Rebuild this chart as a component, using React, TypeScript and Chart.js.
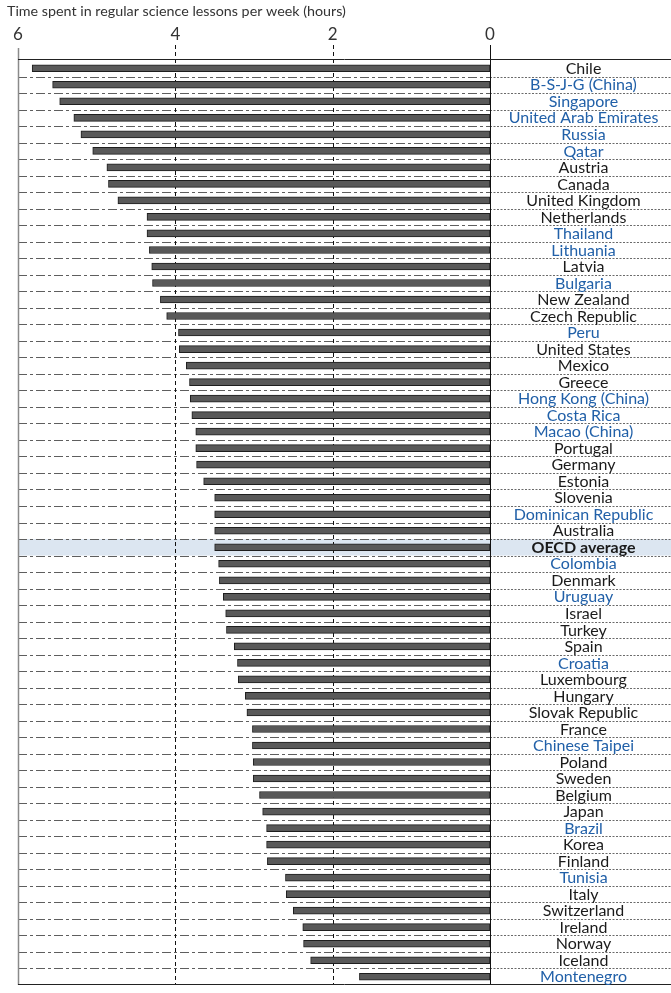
import React, { useEffect, useRef } from "react";
import { Chart, registerables } from "chart.js";

Chart.register(...registerables);

const TITLE = "Time spent in regular science lessons per week (hours)";
const HIGHLIGHT = "OECD average";

const categories = [
  "Chile", "B-S-J-G (China)", "Singapore", "United Arab Emirates", "Russia", "Qatar",
  "Austria", "Canada", "United Kingdom", "Netherlands", "Thailand", "Lithuania",
  "Latvia", "Bulgaria", "New Zealand", "Czech Republic", "Peru", "United States",
  "Mexico", "Greece", "Hong Kong (China)", "Costa Rica", "Macao (China)", "Portugal",
  "Germany", "Estonia", "Slovenia", "Dominican Republic", "Australia", "OECD average",
  "Colombia", "Denmark", "Uruguay", "Israel", "Turkey", "Spain",
  "Croatia", "Luxembourg", "Hungary", "Slovak Republic", "France", "Chinese Taipei",
  "Poland", "Sweden", "Belgium", "Japan", "Brazil", "Korea",
  "Finland", "Tunisia", "Italy", "Switzerland", "Ireland", "Norway",
  "Iceland", "Montenegro",
];

const hours = [
  5.82, 5.56, 5.47, 5.29, 5.20, 5.05,
  4.87, 4.85, 4.73, 4.36, 4.36, 4.33,
  4.30, 4.29, 4.19, 4.11, 3.96, 3.95,
  3.86, 3.82, 3.81, 3.79, 3.74, 3.74,
  3.73, 3.64, 3.50, 3.50, 3.50, 3.50,
  3.45, 3.44, 3.39, 3.36, 3.35, 3.25,
  3.21, 3.20, 3.11, 3.09, 3.02, 3.02,
  3.01, 3.01, 2.93, 2.89, 2.84, 2.84,
  2.83, 2.60, 2.59, 2.50, 2.38, 2.37,
  2.28, 1.66,
];

const partners = [
  "B-S-J-G (China)", "Singapore", "United Arab Emirates", "Russia", "Qatar",
  "Thailand", "Lithuania", "Bulgaria", "Peru", "Hong Kong (China)", "Costa Rica",
  "Macao (China)", "Dominican Republic", "Colombia", "Uruguay", "Croatia",
  "Chinese Taipei", "Brazil", "Tunisia", "Montenegro",
];

const xTicks = [0, 2, 4, 6];

const FONT = "Lato, 'Open Sans', sans-serif";

function line(ctx: CanvasRenderingContext2D, x1: number, y1: number, x2: number, y2: number) {
  ctx.beginPath();
  ctx.moveTo(x1, y1);
  ctx.lineTo(x2, y2);
  ctx.stroke();
}

const decor = {
  id: "decor",
  beforeDatasetsDraw(chart: any) {
    const { ctx, chartArea: ca, scales } = chart;
    const x = scales.x;
    const y = scales.y;
    const W = chart.width;
    const n = categories.length;
    const step = y.getPixelForValue(1) - y.getPixelForValue(0);
    ctx.save();
    // highlight band
    const hi = categories.indexOf(HIGHLIGHT);
    const yc = y.getPixelForValue(hi);
    ctx.fillStyle = "#dce6f1";
    ctx.fillRect(ca.left, yc - step / 2, W - ca.left, step);
    // row separators
    ctx.lineWidth = 1;
    for (let i = 1; i < n; i++) {
      const yy = Math.round(y.getPixelForValue(i) - step / 2) + 0.5;
      ctx.strokeStyle = "#5e5e5e";
      ctx.setLineDash([9, 3, 3, 3]);
      line(ctx, ca.left, yy, ca.right, yy);
      ctx.strokeStyle = "#6a6a6a";
      ctx.setLineDash([2, 1.5]);
      line(ctx, ca.right, yy, W, yy);
    }
    // vertical grid lines
    const maxV = Math.max(...xTicks);
    for (const v of xTicks) {
      const xx = Math.round(x.getPixelForValue(v)) + 0.5;
      if (v === 0) {
        ctx.setLineDash([]);
        ctx.strokeStyle = "#111";
        ctx.lineWidth = 1;
        line(ctx, xx, ca.top - 15, xx, ca.bottom);
      } else if (v === maxV) {
        ctx.setLineDash([]);
        ctx.strokeStyle = "#8a8a8a";
        ctx.lineWidth = 1.5;
        line(ctx, xx, ca.top - 12, xx, ca.bottom);
      } else {
        ctx.setLineDash([4, 3]);
        ctx.strokeStyle = "#111";
        ctx.lineWidth = 1;
        line(ctx, xx, ca.top - 15, xx, ca.bottom);
      }
    }
    // top & bottom borders
    ctx.setLineDash([]);
    ctx.strokeStyle = "#222";
    ctx.lineWidth = 1;
    line(ctx, ca.left, Math.round(ca.top) - 0.5, W, Math.round(ca.top) - 0.5);
    line(ctx, ca.left, Math.round(ca.bottom) - 0.5, W, Math.round(ca.bottom) - 0.5);
    ctx.restore();
  },
  afterDraw(chart: any) {
    const { ctx, chartArea: ca, scales } = chart;
    const y = scales.y;
    const W = chart.width;
    ctx.save();
    ctx.textAlign = "center";
    ctx.textBaseline = "middle";
    const cx = (ca.right + W) / 2 + 3;
    categories.forEach((c, i) => {
      const bold = c === HIGHLIGHT;
      ctx.font = `${bold ? "bold " : ""}16px ${FONT}`;
      ctx.fillStyle = partners.includes(c) ? "#2160a8" : "#1a1a1a";
      ctx.fillText(c, cx, y.getPixelForValue(i) + 0.5);
    });
    ctx.textAlign = "left";
    ctx.textBaseline = "alphabetic";
    ctx.font = `14.3px ${FONT}`;
    ctx.fillStyle = "#333";
    ctx.fillText(TITLE, 7, 16);
    ctx.restore();
  },
};

export default function App() {
  const ref = useRef<HTMLCanvasElement | null>(null);
  useEffect(() => {
    if (!ref.current) return;
    const chart = new Chart(ref.current, {
      type: "bar",
      data: {
        labels: categories,
        datasets: [
          {
            data: hours,
            backgroundColor: "#595959",
            borderColor: "#1e1e1e",
            borderWidth: 1,
            borderSkipped: false,
            barThickness: 7,
          },
        ],
      },
      options: {
        indexAxis: "y",
        animation: false,
        responsive: false,
        devicePixelRatio: 1,
        layout: { padding: { left: 18, right: 181, top: 0, bottom: 8 } },
        plugins: { legend: { display: false }, tooltip: { enabled: false }, title: { display: false } },
        scales: {
          x: {
            position: "top",
            reverse: true,
            min: 0,
            max: 6,
            afterFit: (s: any) => {
              s.height = 60;
            },
            afterBuildTicks: (s: any) => {
              s.ticks = xTicks.map((v) => ({ value: v }));
            },
            grid: { display: false, drawTicks: false },
            border: { display: false },
            ticks: {
              padding: 15,
              color: "#333",
              font: { family: FONT, size: 17 },
              maxRotation: 0,
            },
          },
          y: {
            display: false,
            grid: { display: false },
          },
        },
      },
      plugins: [decor],
    });
    return () => chart.destroy();
  }, []);
  return (
    <div style={{ position: "absolute", left: 0, top: 0, width: 671, height: 993 }}>
      <canvas ref={ref} width={671} height={993} style={{ width: 671, height: 993 }} />
    </div>
  );
}
